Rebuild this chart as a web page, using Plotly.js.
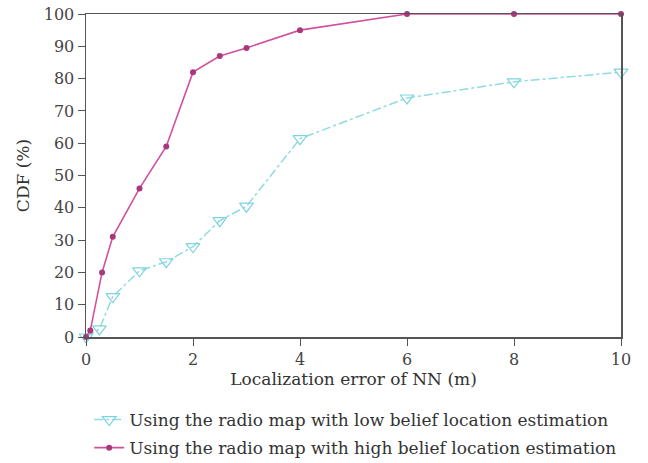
<!DOCTYPE html>
<html><head><meta charset="utf-8">
<script src="https://cdn.plot.ly/plotly-3.0.1.min.js"></script>
<style>html,body{margin:0;padding:0;background:#fff}#chart{width:648px;height:463px}</style>
</head><body><div id="chart"></div>
<script>
const lowX = [0, 0.25, 0.5, 1, 1.5, 2, 2.5, 3, 4, 6, 8, 10];
const lowY = [0, 2.5, 12.5, 20.5, 23.3, 28, 36, 40.5, 61.4, 74, 79, 82];
const highX = [0, 0.08, 0.3, 0.5, 1, 1.5, 2, 2.5, 3, 4, 6, 8, 10];
const highY = [0, 2, 20, 31, 46, 59, 82, 87, 89.5, 95, 100, 100, 100];
const lowName = "Using the radio map with low belief location estimation";
const highName = "Using the radio map with high belief location estimation";
const xTicks = [0, 2, 4, 6, 8, 10];
const yTicks = [0, 10, 20, 30, 40, 50, 60, 70, 80, 90, 100];

const font = "DejaVu Serif, serif";
const traces = [
  {x: lowX, y: lowY, name: lowName, type: "scatter", mode: "lines+markers", cliponaxis: false,
   line: {color: "#8fdbe3", width: 1.5, dash: "dashdot"},
   marker: {symbol: "triangle-down-open", size: 12, color: "#7fd3dc", line: {width: 1.2}},
   legend: "legend"},
  {x: highX, y: highY, name: highName, type: "scatter", mode: "lines+markers", cliponaxis: false,
   line: {color: "#d2519e", width: 1.6},
   marker: {symbol: "circle", size: 6, color: "#a8387a"},
   legend: "legend2"}
];
const axisCommon = {showline: true, linecolor: "#555", linewidth: 1.5, mirror: true,
  ticks: "outside", ticklen: 7, tickcolor: "#555", showgrid: false, zeroline: false,
  tickfont: {family: font, size: 16, color: "#444"}};
const legFont = {family: font, size: 17, color: "#333"};
const layout = {
  width: 648, height: 463,
  margin: {l: 86, r: 27, t: 14, b: 126, autoexpand: false},
  paper_bgcolor: "#fff", plot_bgcolor: "#fff",
  font: {family: font, color: "#333"},
  xaxis: Object.assign({}, axisCommon, {range: [0, 10], tickvals: xTicks,
    title: {text: "Localization error of NN (m)", font: {family: font, size: 17, color: "#333"}, standoff: 4}}),
  yaxis: Object.assign({}, axisCommon, {range: [0, 100], tickvals: yTicks,
    title: {text: "CDF (%)", font: {family: font, size: 17, color: "#333"}, standoff: 10}}),
  legend: {x: 0.006, xanchor: "left", y: -0.257, yanchor: "middle", bgcolor: "rgba(0,0,0,0)",
    font: legFont, itemwidth: 30},
  legend2: {x: 0.006, xanchor: "left", y: -0.344, yanchor: "middle", bgcolor: "rgba(0,0,0,0)",
    font: legFont, itemwidth: 30},
  showlegend: true
};
Plotly.newPlot("chart", traces, layout, {displayModeBar: false, staticPlot: true});
</script></body></html>
